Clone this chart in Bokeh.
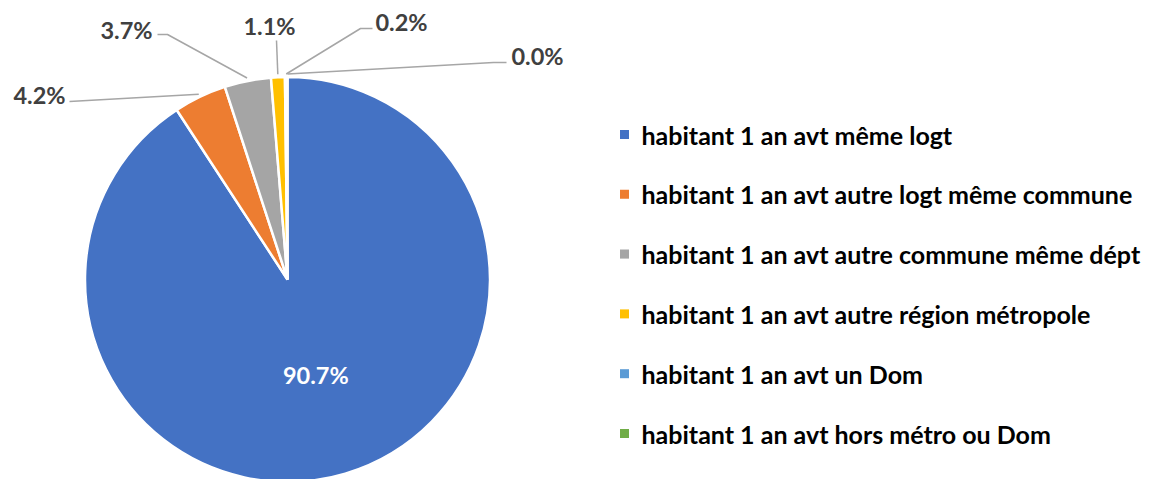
import numpy as np
from bokeh.plotting import figure
from bokeh.models import Range1d
from bokeh.core.properties import value
from bokeh.embed import file_html
from bokeh.resources import INLINE

# ---------------- data ----------------
categories = [
    "habitant 1 an avt même logt",
    "habitant 1 an avt autre logt même commune",
    "habitant 1 an avt autre commune même dépt",
    "habitant 1 an avt autre région métropole",
    "habitant 1 an avt un Dom",
    "habitant 1 an avt hors métro ou Dom",
]
shares = [90.7, 4.2, 3.7, 1.1, 0.2, 0.0]
colors = ["#4472C4", "#ED7D31", "#A5A5A5", "#FFC000", "#5B9BD5", "#70AD47"]

# ---------------- layout (screen pixels of the window) ----------------
W, H = 1149, 479
FONT = "Lato"
LABEL_SIZE = "23.5px"
LEGEND_SIZE = "25px"

def X(sx):
    return sx

def Y(sy):
    return -sy

CX, CY, R = X(287), Y(279), 202.5

# outside label text centres, leader start points and elbows (screen px)
label_centres = [None, (39, 94), (126, 29), (269, 25), (401, 21), (537, 55)]
leader_starts = [None, (69, 101), (157, 34), (276, 40), (372, 28), (506, 62)]
leader_elbows = [None, None, (167, 34), None, (360, 28), (493, 62)]
inside_label_r = 0.49

legend_square_x = 624
legend_text_x = 641
legend_y0 = 134
legend_dy = 59.8

p = figure(width=W, height=H, output_backend="svg", toolbar_location=None,
           x_range=Range1d(0, W), y_range=Range1d(-H, 0), min_border=0)
p.axis.visible = False
p.grid.visible = False
p.outline_line_color = None
p.background_fill_color = "white"
p.border_fill_color = "white"

vals = np.array(shares, dtype=float)
frac = vals / vals.sum()
cum = np.concatenate([[0.0], np.cumsum(frac)])
starts = np.pi / 2 - 2 * np.pi * cum[:-1]
ends = np.pi / 2 - 2 * np.pi * cum[1:]
mids = (starts + ends) / 2

keep = vals > 0
p.wedge(x=CX, y=CY, radius=R,
        start_angle=list(starts[keep]), end_angle=list(ends[keep]),
        direction="clock", fill_color=[c for c, k in zip(colors, keep) if k],
        line_color="white", line_width=2.5)

# inside label of the largest slice
p.text(x=[CX + inside_label_r * R * np.cos(mids[0])],
       y=[CY + inside_label_r * R * np.sin(mids[0])],
       text=[f"{shares[0]:.1f}%"], text_color="white",
       text_font=value(FONT), text_font_style="bold", text_font_size=LABEL_SIZE,
       text_align="center", text_baseline="middle")

# outside labels with leader lines
for i in range(1, len(shares)):
    ex = CX + (R + 3) * np.cos(mids[i])
    ey = CY + (R + 3) * np.sin(mids[i])
    sx, sy = leader_starts[i]
    xs = [X(sx)]
    ys = [Y(sy)]
    if leader_elbows[i] is not None:
        xs.append(X(leader_elbows[i][0]))
        ys.append(Y(leader_elbows[i][1]))
    xs.append(ex)
    ys.append(ey)
    p.line(xs, ys, line_color="#A6A6A6", line_width=1.5)
    cx, cy = label_centres[i]
    p.text(x=[X(cx)], y=[Y(cy)], text=[f"{shares[i]:.1f}%"], text_color="#404040",
           text_font=value(FONT), text_font_style="bold", text_font_size=LABEL_SIZE,
           text_align="center", text_baseline="middle")

# legend
ly = [Y(legend_y0 + k * legend_dy) for k in range(len(categories))]
p.scatter(x=[X(legend_square_x)] * len(categories), y=ly, marker="square",
          size=9, fill_color=colors, line_color=None)
p.text(x=[X(legend_text_x)] * len(categories), y=ly, text=categories,
       text_color="#000000", text_font=value(FONT), text_font_style="bold",
       text_font_size=LEGEND_SIZE, text_align="left", text_baseline="middle")

open("out.html", "w").write(file_html(p, INLINE))
